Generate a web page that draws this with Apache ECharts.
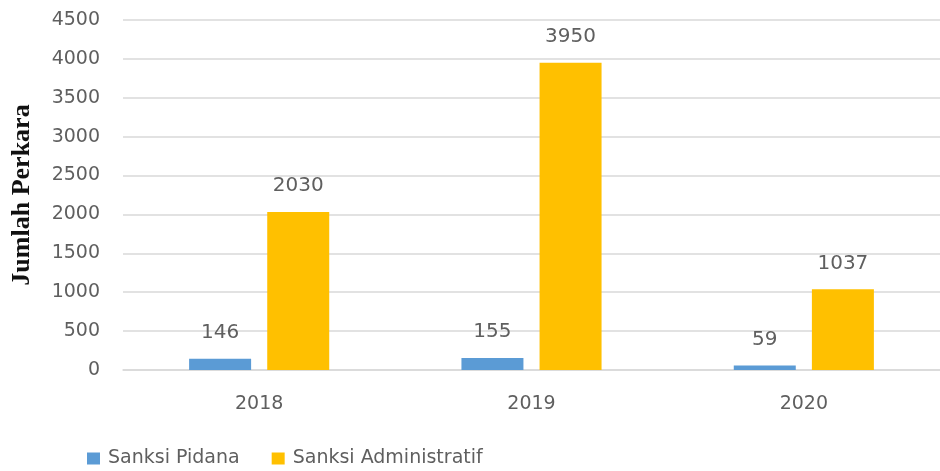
<!DOCTYPE html>
<html><head><meta charset="utf-8">
<script src="https://cdn.jsdelivr.net/npm/echarts@6/dist/echarts.min.js"></script>
<style>html,body{margin:0;padding:0;background:#fff}#c{width:940px;height:471px}</style>
</head><body><div id="c"></div>
<script>
const categories = ['2018', '2019', '2020'];
const sanksiPidana = [146, 155, 59];
const sanksiAdministratif = [2030, 3950, 1037];
const seriesNames = ['Sanksi Pidana', 'Sanksi Administratif'];
const yAxisTitle = 'Jumlah Perkara';

const chart = echarts.init(document.getElementById('c'));
const labelStyle = {show: true, position: 'top', distance: 16, color: '#5f5f5f', fontSize: 20, fontFamily: 'DejaVu Sans'};
chart.setOption({
  animation: false,
  grid: {left: 123, right: -9, top: 20, bottom: 101},
  legend: {
    left: 82, top: 444, itemWidth: 13, itemHeight: 12, itemGap: 32,
    icon: 'rect',
    textStyle: {color: '#5f5f5f', fontSize: 19, fontFamily: 'DejaVu Sans', padding: [0, 0, 0, 3]},
    data: seriesNames
  },
  xAxis: {
    type: 'category', data: categories,
    axisLine: {lineStyle: {color: '#d9d9d9', width: 1.5}},
    axisTick: {show: false},
    axisLabel: {color: '#5f5f5f', fontSize: 19, fontFamily: 'DejaVu Sans', margin: 25}
  },
  yAxis: {
    type: 'value', min: 0, max: 4500, interval: 500,
    name: yAxisTitle, nameLocation: 'middle', nameGap: 88,
    nameTextStyle: {fontFamily: 'Liberation Serif', fontWeight: 'bold', fontSize: 26, color: '#111'},
    axisLine: {show: false}, axisTick: {show: false},
    axisLabel: {color: '#5f5f5f', fontSize: 19, fontFamily: 'DejaVu Sans', margin: 23,
                formatter: v => String(v)},
    splitLine: {lineStyle: {color: '#d9d9d9', width: 1.5}}
  },
  series: [
    {name: seriesNames[0], type: 'bar', data: sanksiPidana, barWidth: 62, barGap: '26%',
     itemStyle: {color: '#5B9BD5'}, label: labelStyle},
    {name: seriesNames[1], type: 'bar', data: sanksiAdministratif, barWidth: 62,
     itemStyle: {color: '#FFC000'}, label: labelStyle}
  ]
});
</script></body></html>
